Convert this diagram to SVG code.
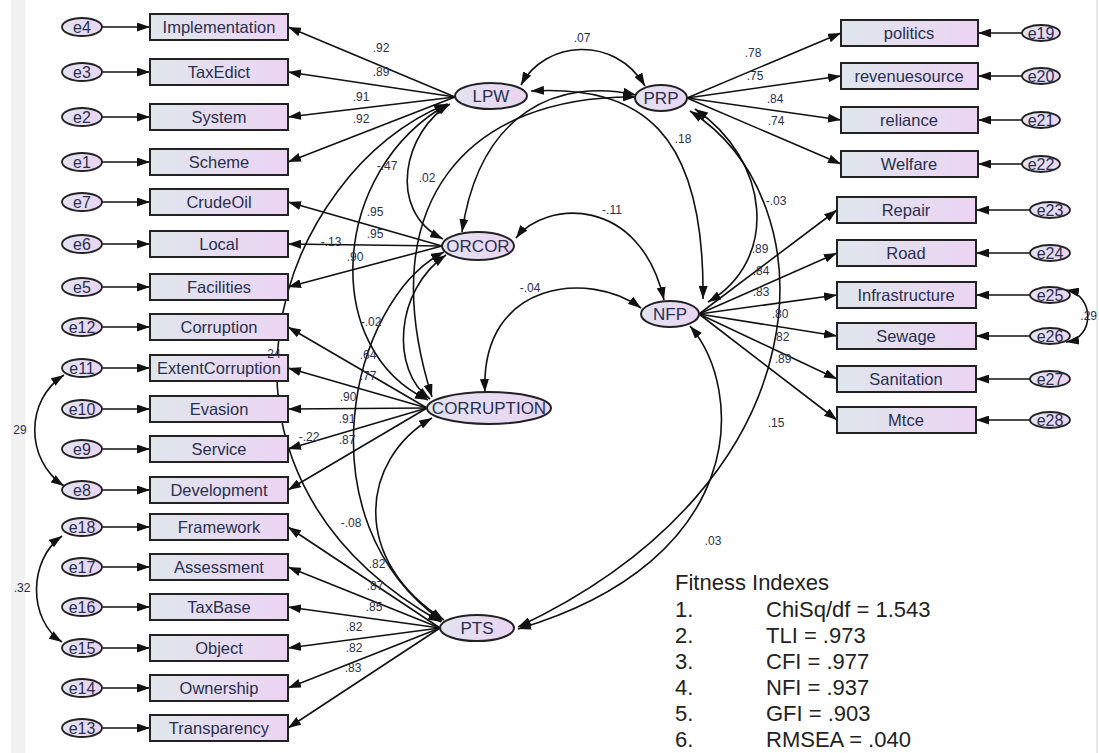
<svg xmlns="http://www.w3.org/2000/svg" width="1099" height="753" viewBox="0 0 1099 753">
<defs>
<linearGradient id="gb" x1="0" y1="0" x2="1" y2="0"><stop offset="0" stop-color="#dfe6ec"/><stop offset="1" stop-color="#ecd4f3"/></linearGradient>
<linearGradient id="ge" x1="0" y1="0" x2="1" y2="0"><stop offset="0" stop-color="#e2e3f0"/><stop offset="1" stop-color="#ead4f2"/></linearGradient>
<marker id="ah" viewBox="0 0 13 9" refX="13" refY="4.5" markerWidth="13" markerHeight="9" markerUnits="userSpaceOnUse" orient="auto-start-reverse"><path d="M0,0 L13,4.5 L0,9 z" fill="#111"/></marker>
<style>
.box{fill:url(#gb);stroke:#222;stroke-width:2}
.lat{fill:url(#ge);stroke:#222;stroke-width:2}
.err{fill:url(#ge);stroke:#222;stroke-width:1.8}
.bt{font-family:"Liberation Sans",Arial,sans-serif;font-size:16.5px;fill:#2a2f4f;text-anchor:middle}
.et{font-family:"Liberation Sans",Arial,sans-serif;font-size:16px;fill:#2a2f4f;text-anchor:middle}
.lt{font-family:"Liberation Sans",Arial,sans-serif;font-size:17px;fill:#2a2f4f;text-anchor:middle}
.pl{font-family:"Liberation Sans",Arial,sans-serif;font-size:12px;fill:#2a2f4f;text-anchor:middle}
.ft{font-family:"Liberation Sans",Arial,sans-serif;font-size:22px;fill:#222}
.ln{fill:none;stroke:#111;stroke-width:1.6;marker-end:url(#ah)}
.cv{fill:none;stroke:#111;stroke-width:1.6;marker-start:url(#ah);marker-end:url(#ah)}
</style>
</defs>
<rect x="0" y="0" width="1099" height="753" fill="#fff"/>
<rect x="11" y="0" width="14" height="753" fill="#f1f1f1"/>
<line x1="1097" y1="0" x2="1097" y2="753" stroke="#e2e2e2" stroke-width="1.5"/>

<g id="connectors">
<line class="ln" x1="102" y1="27" x2="150" y2="27"/>
<line class="ln" x1="102" y1="72" x2="150" y2="72"/>
<line class="ln" x1="102" y1="117" x2="150" y2="117"/>
<line class="ln" x1="102" y1="162" x2="150" y2="162"/>
<line class="ln" x1="102" y1="202" x2="150" y2="202"/>
<line class="ln" x1="102" y1="244" x2="150" y2="244"/>
<line class="ln" x1="102" y1="287" x2="150" y2="287"/>
<line class="ln" x1="102" y1="327" x2="150" y2="327"/>
<line class="ln" x1="102" y1="368" x2="150" y2="368"/>
<line class="ln" x1="102" y1="409" x2="150" y2="409"/>
<line class="ln" x1="102" y1="449" x2="150" y2="449"/>
<line class="ln" x1="102" y1="490" x2="150" y2="490"/>
<line class="ln" x1="102" y1="527" x2="150" y2="527"/>
<line class="ln" x1="102" y1="567" x2="150" y2="567"/>
<line class="ln" x1="102" y1="607" x2="150" y2="607"/>
<line class="ln" x1="102" y1="648" x2="150" y2="648"/>
<line class="ln" x1="102" y1="688" x2="150" y2="688"/>
<line class="ln" x1="102" y1="728" x2="150" y2="728"/>
<line class="ln" x1="1022" y1="33" x2="978" y2="33"/>
<line class="ln" x1="1022" y1="76" x2="978" y2="76"/>
<line class="ln" x1="1022" y1="120" x2="978" y2="120"/>
<line class="ln" x1="1022" y1="164" x2="978" y2="164"/>
<line class="ln" x1="1030" y1="210" x2="976" y2="210"/>
<line class="ln" x1="1030" y1="253" x2="976" y2="253"/>
<line class="ln" x1="1030" y1="295" x2="976" y2="295"/>
<line class="ln" x1="1030" y1="336" x2="976" y2="336"/>
<line class="ln" x1="1030" y1="379" x2="976" y2="379"/>
<line class="ln" x1="1030" y1="420" x2="976" y2="420"/>
<line class="ln" x1="455" y1="97" x2="288" y2="27"/>
<line class="ln" x1="455" y1="97" x2="288" y2="72"/>
<line class="ln" x1="455" y1="97" x2="288" y2="117"/>
<line class="ln" x1="455" y1="97" x2="288" y2="162"/>
<line class="ln" x1="442" y1="246" x2="288" y2="202"/>
<line class="ln" x1="442" y1="246" x2="288" y2="244"/>
<line class="ln" x1="442" y1="246" x2="288" y2="287"/>
<line class="ln" x1="427" y1="408" x2="288" y2="327"/>
<line class="ln" x1="427" y1="408" x2="288" y2="368"/>
<line class="ln" x1="427" y1="408" x2="288" y2="409"/>
<line class="ln" x1="427" y1="408" x2="288" y2="449"/>
<line class="ln" x1="427" y1="408" x2="288" y2="490"/>
<line class="ln" x1="440" y1="628" x2="288" y2="527"/>
<line class="ln" x1="440" y1="628" x2="288" y2="567"/>
<line class="ln" x1="440" y1="628" x2="288" y2="607"/>
<line class="ln" x1="440" y1="628" x2="288" y2="648"/>
<line class="ln" x1="440" y1="628" x2="288" y2="688"/>
<line class="ln" x1="440" y1="628" x2="288" y2="728"/>
<line class="ln" x1="687" y1="98" x2="841" y2="33"/>
<line class="ln" x1="687" y1="98" x2="841" y2="76"/>
<line class="ln" x1="687" y1="98" x2="841" y2="120"/>
<line class="ln" x1="687" y1="98" x2="841" y2="164"/>
<line class="ln" x1="699" y1="314" x2="837" y2="210"/>
<line class="ln" x1="699" y1="314" x2="837" y2="253"/>
<line class="ln" x1="699" y1="314" x2="837" y2="295"/>
<line class="ln" x1="699" y1="314" x2="837" y2="336"/>
<line class="ln" x1="699" y1="314" x2="837" y2="379"/>
<line class="ln" x1="699" y1="314" x2="837" y2="420"/>
<path class="cv" d="M521,85 C545,40 615,35 645,86"/>
<path class="cv" d="M531,91 C640,85 705,130 703,299"/>
<path class="cv" d="M636,95 C560,78 480,110 462,232"/>
<path class="cv" d="M636,97 C470,95 370,200 432,397"/>
<path class="cv" d="M450,104 C405,130 385,210 443,239"/>
<path class="cv" d="M448,104 C330,170 320,350 428,400"/>
<path class="cv" d="M447,104 C280,170 170,470 441,622"/>
<path class="cv" d="M446,255 C395,290 390,370 430,399"/>
<path class="cv" d="M444,252 C350,300 300,520 442,621"/>
<path class="cv" d="M432,418 C360,460 350,560 444,620"/>
<path class="cv" d="M516,238 C545,200 640,195 664,300"/>
<path class="cv" d="M485,392 C480,280 590,270 641,308"/>
<path class="cv" d="M695,109 C770,160 780,260 708,302"/>
<path class="cv" d="M690,111 C830,200 830,480 518,627"/>
<path class="cv" d="M690,326 C745,390 750,560 518,629"/>
<path class="cv" d="M64,375 C25,400 25,460 64,486"/>
<path class="cv" d="M62,536 C28,560 28,620 62,642"/>
<path class="cv" d="M1066,290 C1095,295 1095,338 1066,342"/>
</g>

<g id="LPW"><ellipse class="lat" cx="491" cy="96" rx="36" ry="13"/><text class="lt" x="491" y="102">LPW</text></g>
<g id="PRP"><ellipse class="lat" cx="661" cy="98" rx="26" ry="13"/><text class="lt" x="661" y="104">PRP</text></g>
<g id="ORCOR"><ellipse class="lat" cx="478" cy="246" rx="36" ry="14"/><text class="lt" x="478" y="252">ORCOR</text></g>
<g id="NFP"><ellipse class="lat" cx="670" cy="314" rx="29" ry="13"/><text class="lt" x="670" y="320">NFP</text></g>
<g id="CORRUPTION"><ellipse class="lat" cx="489" cy="408" rx="62" ry="16"/><text class="lt" x="489" y="414">CORRUPTION</text></g>
<g id="PTS"><ellipse class="lat" cx="477" cy="628" rx="37" ry="13"/><text class="lt" x="477" y="634">PTS</text></g>

<g id="Implementation"><rect class="box" x="150" y="14" width="138" height="26"/><text class="bt" x="219" y="33">Implementation</text></g>
<g id="TaxEdict"><rect class="box" x="150" y="59" width="138" height="26"/><text class="bt" x="219" y="78">TaxEdict</text></g>
<g id="System"><rect class="box" x="150" y="104" width="138" height="26"/><text class="bt" x="219" y="123">System</text></g>
<g id="Scheme"><rect class="box" x="150" y="149" width="138" height="26"/><text class="bt" x="219" y="168">Scheme</text></g>
<g id="CrudeOil"><rect class="box" x="150" y="189" width="138" height="26"/><text class="bt" x="219" y="208">CrudeOil</text></g>
<g id="Local"><rect class="box" x="150" y="231" width="138" height="26"/><text class="bt" x="219" y="250">Local</text></g>
<g id="Facilities"><rect class="box" x="150" y="274" width="138" height="26"/><text class="bt" x="219" y="293">Facilities</text></g>
<g id="Corruption"><rect class="box" x="150" y="314" width="138" height="26"/><text class="bt" x="219" y="333">Corruption</text></g>
<g id="ExtentCorruption"><rect class="box" x="150" y="355" width="138" height="26"/><text class="bt" x="219" y="374">ExtentCorruption</text></g>
<g id="Evasion"><rect class="box" x="150" y="396" width="138" height="26"/><text class="bt" x="219" y="415">Evasion</text></g>
<g id="Service"><rect class="box" x="150" y="436" width="138" height="26"/><text class="bt" x="219" y="455">Service</text></g>
<g id="Development"><rect class="box" x="150" y="477" width="138" height="26"/><text class="bt" x="219" y="496">Development</text></g>
<g id="Framework"><rect class="box" x="150" y="514" width="138" height="26"/><text class="bt" x="219" y="533">Framework</text></g>
<g id="Assessment"><rect class="box" x="150" y="554" width="138" height="26"/><text class="bt" x="219" y="573">Assessment</text></g>
<g id="TaxBase"><rect class="box" x="150" y="594" width="138" height="26"/><text class="bt" x="219" y="613">TaxBase</text></g>
<g id="Object"><rect class="box" x="150" y="635" width="138" height="26"/><text class="bt" x="219" y="654">Object</text></g>
<g id="Ownership"><rect class="box" x="150" y="675" width="138" height="26"/><text class="bt" x="219" y="694">Ownership</text></g>
<g id="Transparency"><rect class="box" x="150" y="715" width="138" height="26"/><text class="bt" x="219" y="734">Transparency</text></g>

<g id="politics"><rect class="box" x="841" y="20" width="137" height="26"/><text class="bt" x="909" y="39">politics</text></g>
<g id="revenuesource"><rect class="box" x="841" y="63" width="137" height="26"/><text class="bt" x="909" y="82">revenuesource</text></g>
<g id="reliance"><rect class="box" x="841" y="107" width="137" height="26"/><text class="bt" x="909" y="126">reliance</text></g>
<g id="Welfare"><rect class="box" x="841" y="151" width="137" height="26"/><text class="bt" x="909" y="170">Welfare</text></g>
<g id="Repair"><rect class="box" x="837" y="197" width="139" height="26"/><text class="bt" x="906" y="216">Repair</text></g>
<g id="Road"><rect class="box" x="837" y="240" width="139" height="26"/><text class="bt" x="906" y="259">Road</text></g>
<g id="Infrastructure"><rect class="box" x="837" y="282" width="139" height="26"/><text class="bt" x="906" y="301">Infrastructure</text></g>
<g id="Sewage"><rect class="box" x="837" y="323" width="139" height="26"/><text class="bt" x="906" y="342">Sewage</text></g>
<g id="Sanitation"><rect class="box" x="837" y="366" width="139" height="26"/><text class="bt" x="906" y="385">Sanitation</text></g>
<g id="Mtce"><rect class="box" x="837" y="407" width="139" height="26"/><text class="bt" x="906" y="426">Mtce</text></g>

<g id="e4"><ellipse class="err" cx="82" cy="27" rx="20" ry="9"/><text class="et" x="82" y="33">e4</text></g>
<g id="e3"><ellipse class="err" cx="82" cy="72" rx="20" ry="9"/><text class="et" x="82" y="78">e3</text></g>
<g id="e2"><ellipse class="err" cx="82" cy="117" rx="20" ry="9"/><text class="et" x="82" y="123">e2</text></g>
<g id="e1"><ellipse class="err" cx="82" cy="162" rx="20" ry="9"/><text class="et" x="82" y="168">e1</text></g>
<g id="e7"><ellipse class="err" cx="82" cy="202" rx="20" ry="9"/><text class="et" x="82" y="208">e7</text></g>
<g id="e6"><ellipse class="err" cx="82" cy="244" rx="20" ry="9"/><text class="et" x="82" y="250">e6</text></g>
<g id="e5"><ellipse class="err" cx="82" cy="287" rx="20" ry="9"/><text class="et" x="82" y="293">e5</text></g>
<g id="e12"><ellipse class="err" cx="82" cy="327" rx="20" ry="9"/><text class="et" x="82" y="333">e12</text></g>
<g id="e11"><ellipse class="err" cx="82" cy="368" rx="20" ry="9"/><text class="et" x="82" y="374">e11</text></g>
<g id="e10"><ellipse class="err" cx="82" cy="409" rx="20" ry="9"/><text class="et" x="82" y="415">e10</text></g>
<g id="e9"><ellipse class="err" cx="82" cy="449" rx="20" ry="9"/><text class="et" x="82" y="455">e9</text></g>
<g id="e8"><ellipse class="err" cx="82" cy="490" rx="20" ry="9"/><text class="et" x="82" y="496">e8</text></g>
<g id="e18"><ellipse class="err" cx="82" cy="527" rx="20" ry="9"/><text class="et" x="82" y="533">e18</text></g>
<g id="e17"><ellipse class="err" cx="82" cy="567" rx="20" ry="9"/><text class="et" x="82" y="573">e17</text></g>
<g id="e16"><ellipse class="err" cx="82" cy="607" rx="20" ry="9"/><text class="et" x="82" y="613">e16</text></g>
<g id="e15"><ellipse class="err" cx="82" cy="648" rx="20" ry="9"/><text class="et" x="82" y="654">e15</text></g>
<g id="e14"><ellipse class="err" cx="82" cy="688" rx="20" ry="9"/><text class="et" x="82" y="694">e14</text></g>
<g id="e13"><ellipse class="err" cx="82" cy="728" rx="20" ry="9"/><text class="et" x="82" y="734">e13</text></g>

<g id="e19"><ellipse class="err" cx="1041" cy="33" rx="19" ry="8"/><text class="et" x="1041" y="39">e19</text></g>
<g id="e20"><ellipse class="err" cx="1041" cy="76" rx="19" ry="8"/><text class="et" x="1041" y="82">e20</text></g>
<g id="e21"><ellipse class="err" cx="1041" cy="120" rx="19" ry="8"/><text class="et" x="1041" y="126">e21</text></g>
<g id="e22"><ellipse class="err" cx="1041" cy="164" rx="19" ry="8"/><text class="et" x="1041" y="170">e22</text></g>
<g id="e23"><ellipse class="err" cx="1050" cy="210" rx="20" ry="8"/><text class="et" x="1050" y="216">e23</text></g>
<g id="e24"><ellipse class="err" cx="1050" cy="253" rx="20" ry="8"/><text class="et" x="1050" y="259">e24</text></g>
<g id="e25"><ellipse class="err" cx="1050" cy="295" rx="20" ry="8"/><text class="et" x="1050" y="301">e25</text></g>
<g id="e26"><ellipse class="err" cx="1050" cy="336" rx="20" ry="8"/><text class="et" x="1050" y="342">e26</text></g>
<g id="e27"><ellipse class="err" cx="1050" cy="379" rx="20" ry="8"/><text class="et" x="1050" y="385">e27</text></g>
<g id="e28"><ellipse class="err" cx="1050" cy="420" rx="20" ry="8"/><text class="et" x="1050" y="426">e28</text></g>

<g id="labels">
<text class="pl" x="381" y="52">.92</text>
<text class="pl" x="381" y="76">.89</text>
<text class="pl" x="361" y="101">.91</text>
<text class="pl" x="361" y="123">.92</text>
<text class="pl" x="375" y="216">.95</text>
<text class="pl" x="375" y="238">.95</text>
<text class="pl" x="355" y="261">.90</text>
<text class="pl" x="368" y="359">.64</text>
<text class="pl" x="368" y="380">.77</text>
<text class="pl" x="348" y="401">.90</text>
<text class="pl" x="347" y="423">.91</text>
<text class="pl" x="347" y="444">.87</text>
<text class="pl" x="377" y="568">.82</text>
<text class="pl" x="375" y="590">.87</text>
<text class="pl" x="374" y="611">.85</text>
<text class="pl" x="354" y="631">.82</text>
<text class="pl" x="354" y="652">.82</text>
<text class="pl" x="353" y="672">.83</text>
<text class="pl" x="753" y="57">.78</text>
<text class="pl" x="755" y="80">.75</text>
<text class="pl" x="775" y="103">.84</text>
<text class="pl" x="776" y="125">.74</text>
<text class="pl" x="760" y="253">.89</text>
<text class="pl" x="761" y="275">.84</text>
<text class="pl" x="761" y="296">.83</text>
<text class="pl" x="780" y="318">.80</text>
<text class="pl" x="781" y="341">.82</text>
<text class="pl" x="783" y="363">.89</text>
<text class="pl" x="582" y="42">.07</text>
<text class="pl" x="683" y="143">.18</text>
<text class="pl" x="387" y="170">-.47</text>
<text class="pl" x="427" y="182">.02</text>
<text class="pl" x="612" y="214">-.11</text>
<text class="pl" x="530" y="292">-.04</text>
<text class="pl" x="776" y="205">-.03</text>
<text class="pl" x="331" y="246">-.13</text>
<text class="pl" x="371" y="326">-.02</text>
<text class="pl" x="274" y="358">24</text>
<text class="pl" x="309" y="441">-.22</text>
<text class="pl" x="351" y="527">-.08</text>
<text class="pl" x="776" y="427">.15</text>
<text class="pl" x="713" y="545">.03</text>
<text class="pl" x="20" y="434">29</text>
<text class="pl" x="22" y="592">.32</text>
<text class="pl" x="1097" y="320" style="text-anchor:end">.29</text>
</g>

<g id="fitness">
<text class="ft" x="675" y="590">Fitness Indexes</text>
<text class="ft" x="675" y="617">1.</text><text class="ft" x="766" y="617">ChiSq/df = 1.543</text>
<text class="ft" x="675" y="643">2.</text><text class="ft" x="766" y="643">TLI = .973</text>
<text class="ft" x="675" y="669">3.</text><text class="ft" x="766" y="669">CFI = .977</text>
<text class="ft" x="675" y="695">4.</text><text class="ft" x="766" y="695">NFI = .937</text>
<text class="ft" x="675" y="721">5.</text><text class="ft" x="766" y="721">GFI = .903</text>
<text class="ft" x="675" y="747">6.</text><text class="ft" x="766" y="747">RMSEA = .040</text>
</g>
</svg>
